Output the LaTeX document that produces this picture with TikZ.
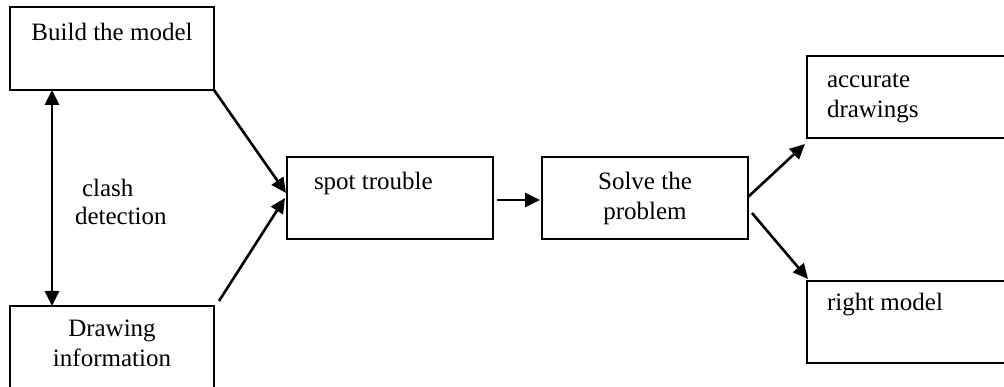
\documentclass[tikz,border=0pt]{standalone}
\usepackage{fontspec}
\setmainfont{Liberation Serif}
\usetikzlibrary{arrows.meta,calc}
\newcommand\tlcen[2]{\vtop{\halign{\hfil##\hfil\cr#1\cr#2\cr}}}
\newcommand\tlleft[2]{\vtop{\halign{##\hfil\cr#1\cr#2\cr}}}
\begin{document}
\begin{tikzpicture}[x=1pt,y=-1pt,
  box/.style={draw,line width=2pt,inner sep=0pt,outer sep=0pt,rectangle},
  txt/.style={font=\fontsize{25}{30}\selectfont,inner sep=0pt,outer sep=0pt},
  arr/.style={line width=2.6pt,-{Triangle[length=15pt,width=14pt]}},
  darr/.style={line width=2.6pt,{Triangle[length=15pt,width=14pt]}-{Triangle[length=15pt,width=14pt]}},
]
\useasboundingbox (0,0) rectangle (1004,387);
% boxes
\node[box,minimum width=204pt,minimum height=83pt] (bm) at (112,48.5) {};
\node[box,minimum width=204pt,minimum height=100pt] (di) at (112,356) {};
\node[box,minimum width=206pt,minimum height=82pt] (st) at (390,198) {};
\node[box,minimum width=206pt,minimum height=82pt] (sp) at (645,198) {};
\node[box,minimum width=210pt,minimum height=82pt] (ad) at (912,97) {};
\node[box,minimum width=210pt,minimum height=82pt] (rm) at (912,322) {};
% texts
\node[txt,anchor=base] (tbm) at (112,41) {Build the model};
\node[txt,anchor=base] (tdi) at (112,337) {\tlcen{Drawing}{information}};
\node[txt,anchor=base west] (tst) at (314,190) {spot trouble};
\node[txt,anchor=base] (tsp) at (645,190) {\tlcen{Solve the}{problem}};
\node[txt,anchor=base west] (tad) at (827,88) {\tlleft{accurate}{drawings}};
\node[txt,anchor=base west] (trm) at (827,311) {right model};
\node[txt,font=\fontsize{25}{28}\selectfont,anchor=base west] (tcd) at (75,197) {\tlleft{\hspace{7pt}clash}{detection}};
% connectors
\draw[darr] ($(bm.south west)+(42,0)$) -- ($(di.north west)+(42,0)$);
\draw[arr] (bm.south east) -- ($(st.north west)+(-1,36)$);
\draw[arr] ($(di.north east)+(5,-5)$) -- ($(st.north west)+(-2,41)$);
\draw[arr] ($(st.east)+(4,2)$) -- ($(sp.west)+(-2,2)$);
\draw[arr] ($(sp.east)+(0,-1)$) -- ($(ad.south west)+(-2,6)$);
\draw[arr] ($(sp.east)+(4,15)$) -- ($(rm.north west)+(1,-2)$);
\end{tikzpicture}
\end{document}
